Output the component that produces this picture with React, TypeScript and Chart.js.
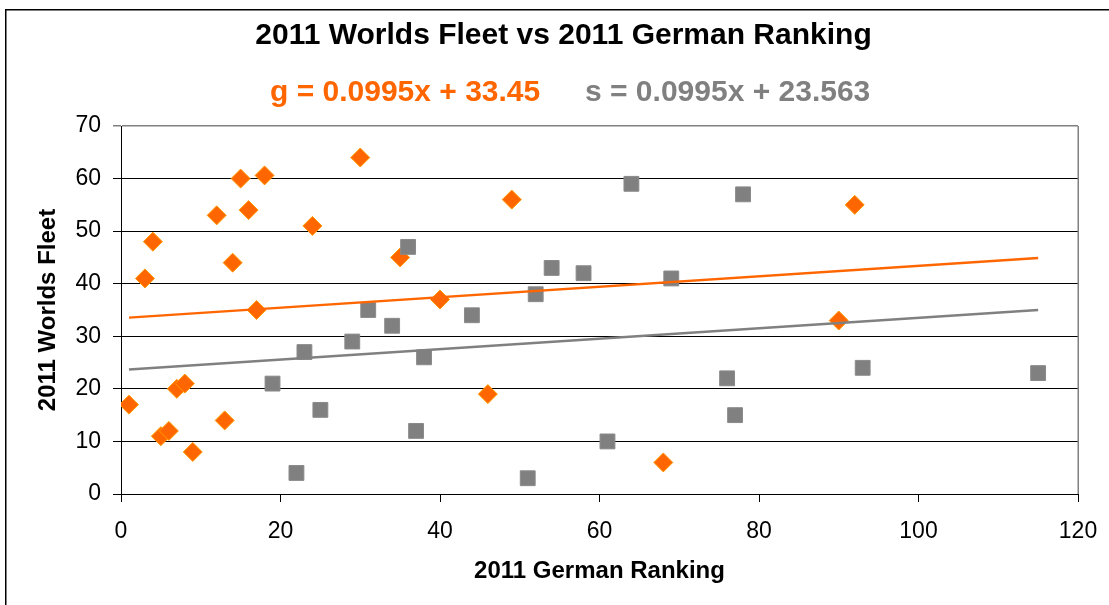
import React, { useEffect, useRef } from "react";
import { Chart, registerables } from "chart.js";

Chart.register(...registerables);

const chartTitle = "2011 Worlds Fleet vs 2011 German Ranking";
const xAxisTitle = "2011 German Ranking";
const yAxisTitle = "2011 Worlds Fleet";

// Orange diamonds (g)
const gRanking = [1, 3, 4, 5, 6, 7, 8, 9, 12, 13, 14, 15, 16, 17, 18, 24, 30, 35, 40, 46, 49, 68, 90, 92];
const gFleet = [17, 41, 48, 11, 12, 20, 21, 8, 53, 14, 44, 60, 54, 35, 60.6, 51, 64, 45, 37, 19, 56, 6, 33, 55];

// Gray squares (s)
const sRanking = [19, 22, 23, 25, 29, 31, 34, 36, 37, 38, 44, 51, 52, 54, 58, 61, 64, 69, 76, 77, 78, 93, 115];
const sFleet = [21, 4, 27, 16, 29, 35, 32, 47, 12, 26, 34, 3, 38, 43, 42, 10, 59, 41, 22, 15, 57, 24, 23];

// Trendline coefficients (from the equations shown)
const gSlope = 0.0995;
const gIntercept = 33.45;
const sSlope = 0.0995;
const sIntercept = 23.563;
const trendRange = [1, 115];

const xTicks = [0, 20, 40, 60, 80, 100, 120];
const yTicks = [0, 10, 20, 30, 40, 50, 60, 70];

const ORANGE = "#FF6600";
const GRAY = "#808080";
const FONT = "'Liberation Sans', Arial, sans-serif";

export default function App() {
  const ref = useRef<HTMLCanvasElement | null>(null);

  useEffect(() => {
    const canvas = ref.current;
    if (!canvas) return;

    const headerPlugin = {
      id: "header",
      afterDraw(chart: any) {
        const ctx = chart.ctx;
        const area = chart.chartArea;
        ctx.save();
        // outer border
        ctx.strokeStyle = "#000";
        ctx.lineWidth = 1.5;
        ctx.strokeRect(5.75, 9.75, 1300, 800);
        // plot right border
        ctx.strokeStyle = GRAY;
        ctx.lineWidth = 1.5;
        ctx.beginPath();
        ctx.moveTo(Math.round(area.right) + 0.25, area.top);
        ctx.lineTo(Math.round(area.right) + 0.25, area.bottom);
        ctx.stroke();
        // title
        ctx.fillStyle = "#000";
        ctx.font = `bold 30px ${FONT}`;
        ctx.textAlign = "center";
        ctx.textBaseline = "middle";
        ctx.fillText(chartTitle, 563.5, 36);
        // equations
        ctx.font = `bold 30px ${FONT}`;
        ctx.textAlign = "left";
        ctx.fillStyle = ORANGE;
        ctx.fillText(`g = ${gSlope}x + ${gIntercept}`, 270, 93);
        ctx.fillStyle = GRAY;
        ctx.fillText(`s = ${sSlope}x + ${sIntercept}`, 585, 93);
        ctx.restore();
      },
    };

    const chart = new Chart(canvas, {
      type: "scatter",
      data: {
        datasets: [
          {
            label: "g trend",
            type: "line",
            data: trendRange.map((x) => ({ x, y: gSlope * x + gIntercept })),
            borderColor: ORANGE,
            borderWidth: 2.5,
            pointRadius: 0,
            showLine: true,
            fill: false,
            order: 0,
          },
          {
            label: "s trend",
            type: "line",
            data: trendRange.map((x) => ({ x, y: sSlope * x + sIntercept })),
            borderColor: GRAY,
            borderWidth: 2.5,
            pointRadius: 0,
            showLine: true,
            fill: false,
            order: 0,
          },
          {
            label: "s",
            data: sRanking.map((x, i) => ({ x, y: sFleet[i] })),
            pointStyle: "rect",
            pointRadius: 10.5,
            backgroundColor: GRAY,
            borderColor: "#8a8a8a",
            borderWidth: 1,
            order: 1,
          },
          {
            label: "g",
            data: gRanking.map((x, i) => ({ x, y: gFleet[i] })),
            pointStyle: "rectRot",
            pointRadius: 9.5,
            backgroundColor: ORANGE,
            borderColor: "#FF9900",
            borderWidth: 1,
            order: 2,
          },
        ],
      },
      options: {
        animation: false,
        responsive: false,
        devicePixelRatio: 1,
        layout: { padding: { left: 0, right: 31, top: 126, bottom: 0 } },
        plugins: {
          legend: { display: false },
          title: { display: false },
          tooltip: { enabled: false },
        },
        scales: {
          x: {
            type: "linear",
            min: 0,
            max: 120,
            afterBuildTicks: (scale: any) => {
              scale.ticks = xTicks.map((v) => ({ value: v }));
            },
            afterFit: (scale: any) => {
              scale.height = 111;
              scale.paddingLeft = 0;
              scale.paddingRight = 0;
            },
            grid: {
              drawOnChartArea: false,
              drawTicks: true,
              tickLength: 8,
              color: "#000",
              lineWidth: 1,
            },
            border: { color: "#000", width: 1 },
            ticks: {
              color: "#000",
              font: { family: FONT, size: 23 },
              padding: 16,
              maxRotation: 0,
            },
            title: {
              display: true,
              text: xAxisTitle,
              color: "#000",
              font: { family: FONT, size: 24, weight: "bold" },
              padding: { top: 0, bottom: 19 },
            },
          },
          y: {
            type: "linear",
            min: 0,
            max: 70,
            afterBuildTicks: (scale: any) => {
              scale.ticks = yTicks.map((v) => ({ value: v }));
            },
            afterFit: (scale: any) => {
              scale.width = 121;
              scale.paddingTop = 0;
              scale.paddingBottom = 0;
            },
            grid: {
              drawOnChartArea: true,
              drawTicks: true,
              tickLength: 8,
              color: (c: any) => (c.tick && c.tick.value === 70 ? GRAY : "#000"),
              lineWidth: (c: any) => (c.tick && c.tick.value === 70 ? 1.5 : 1),
            },
            border: { color: "#000", width: 1 },
            ticks: {
              color: "#000",
              font: { family: FONT, size: 23 },
              padding: 12,
            },
            title: {
              display: true,
              text: yAxisTitle,
              color: "#000",
              font: { family: FONT, size: 24, weight: "bold" },
              padding: { top: 34, bottom: 0 },
            },
          },
        },
      },
      plugins: [headerPlugin],
    } as any);

    return () => chart.destroy();
  }, []);

  return (
    <div style={{ position: "absolute", left: 0, top: 0, width: 1109, height: 605, background: "#fff" }}>
      <canvas ref={ref} width={1109} height={605} style={{ display: "block", width: 1109, height: 605 }} />
    </div>
  );
}
